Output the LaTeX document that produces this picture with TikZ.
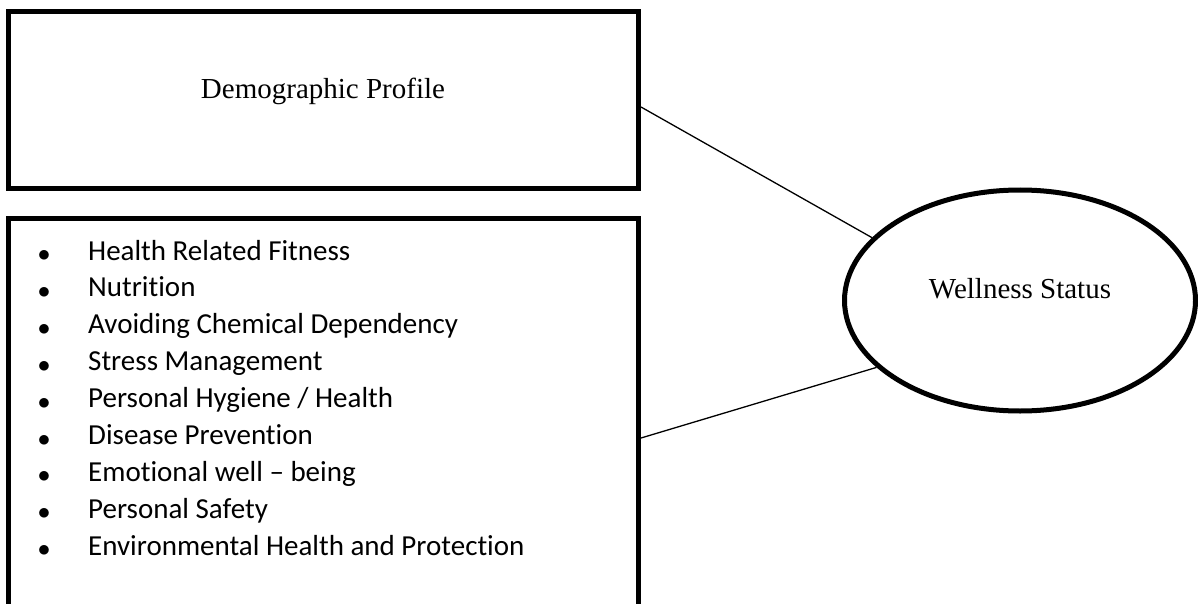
\documentclass[tikz,border=0pt]{standalone}
\usepackage{fontspec}
\setmainfont{Liberation Serif}
\newfontfamily\calibrifont[Ligatures={NoCommon}]{Carlito}
\usetikzlibrary{shapes.geometric}

\tikzset{
  framebox/.style = {draw, line width=5pt, inner sep=0pt},
  serifword/.style = {font=\fontsize{29}{37}\selectfont, anchor=base, inner sep=0pt},
  itemtext/.style = {font=\calibrifont\fontsize{29}{37}\selectfont, anchor=base west, inner sep=0pt},
  itemdot/.style = {font=\fontsize{37}{37}\selectfont, anchor=base, inner sep=0pt},
  link/.style = {line width=1.3pt}
}

\begin{document}
\begin{tikzpicture}[x=1pt, y=-1pt]
  \useasboundingbox (0,0) rectangle (1198,604);
  \clip (0,0) rectangle (1198,604);

  \node[framebox, minimum width=630pt, minimum height=176pt] at (323.5,100) (demo) {};
  \node[serifword] at (323,99) (demotext) {Demographic Profile};

  \node[framebox, minimum width=630pt, minimum height=422pt] at (323.5,429) (factors) {};
  \foreach \txt [count=\i] in {Health Related Fitness, Nutrition,
      Avoiding Chemical Dependency, Stress Management,
      Personal Hygiene / Health, Disease Prevention,
      Emotional well – being, Personal Safety,
      Environmental Health and Protection} {
    \node[itemdot] at (44,{261.5+36.9*(\i-1)}) (dot\i) {$\bullet$};
    \node[itemtext] at (88,{260+36.9*(\i-1)}) (item\i) {\txt};
  }

  \node[framebox, ellipse, minimum width=351pt, minimum height=221pt] at (1020,300.5) (wellness) {};
  \node[serifword] at (1020,298) (wellnesstext) {Wellness Status};

  \draw[link] ([yshift=-7pt]demo.east) -- (wellness.157);
  \draw[link] ([yshift=-9pt]factors.east) -- (wellness.205);
\end{tikzpicture}
\end{document}
